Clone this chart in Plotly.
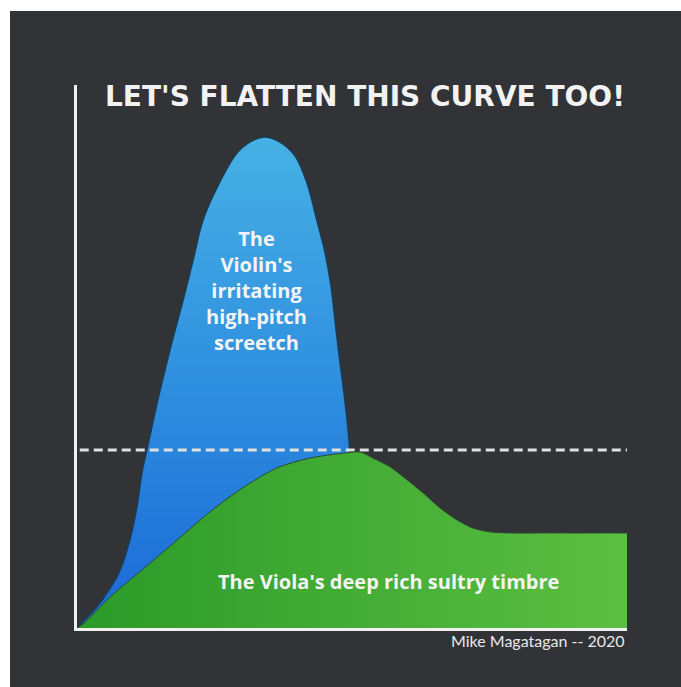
import plotly.graph_objects as go

# Violin curve (x, y in arbitrary units 0..100)
violin_x = [0, 1.45, 3.6, 5.8, 7.6, 9.6, 10.9, 11.8, 13.1, 14.7, 16.9, 19.3, 21.1, 22.9, 25.5, 29.1, 31.1, 33.8,
            36.9, 39.6, 41.8, 43.6, 45.1, 46.2, 46.9, 47.6, 48.4, 49.1, 49.6, 50.4, 51.5, 52.5]
violin_y = [0, 1.5, 3.9, 7.0, 10.1, 16.2, 22.3, 28.5, 34.6, 42.0, 51.2, 60.4, 67.7, 75.1, 81.2, 87.5, 89.3, 90.4,
            89.5, 87.0, 82.0, 75.1, 69.1, 62.8, 56.7, 50.6, 44.4, 38.3, 32.8, 23.6, 12.5, 0]

# Viola curve
viola_x = [0, 1.3, 6.0, 12.2, 18.2, 24.2, 30.4, 36.4, 42.4, 48.5, 51.5, 53.8, 56.9, 60.0, 62.9, 66.0, 69.1, 72.0,
           75.1, 78.7, 85, 92, 100]
viola_y = [0, 0.9, 5.7, 11.0, 16.2, 21.4, 26.0, 29.5, 31.3, 32.2, 32.4, 31.3, 29.7, 27.3, 24.9, 22.1, 19.9, 18.4,
           17.7, 17.5, 17.5, 17.5, 17.5]

threshold = 32.8

title_text = "LET'S FLATTEN THIS CURVE TOO!"
violin_label = "The<br>Violin's<br>irritating<br>high-pitch<br>screetch"
viola_label = "The Viola's deep rich sultry timbre"
credit = "Mike Magatagan -- 2020"

W, H = 681, 687
L, R, T, B = 77, 54, 85, 59
pw, ph = W - L - R, H - T - B


def px(xp):
    return (xp - L) / pw


def py(yp):
    return 1 - (yp - T) / ph


fig = go.Figure()

fig.add_trace(go.Scatter(
    x=violin_x, y=violin_y, mode="lines",
    line=dict(color="#1b3c52", width=1.5, shape="spline", smoothing=1.0),
    fill="tozeroy",
    fillgradient=dict(type="vertical", start=0, stop=90,
                      colorscale=[[0, "#1a68d6"], [0.5, "#2f8fdf"], [1, "#46b0e4"]]),
    hoverinfo="skip", showlegend=False))

fig.add_trace(go.Scatter(
    x=[0.5, 100], y=[threshold, threshold], mode="lines",
    line=dict(color="#e0e0e0", width=3, dash="9px,5px"),
    hoverinfo="skip", showlegend=False))

fig.add_trace(go.Scatter(
    x=viola_x, y=viola_y, mode="lines",
    line=dict(color="#2a4a2c", width=1, shape="spline", smoothing=0.8),
    fill="tozeroy",
    fillgradient=dict(type="horizontal", start=0, stop=100,
                      colorscale=[[0, "#2b9a28"], [1, "#5cbf42"]]),
    hoverinfo="skip", showlegend=False))

# white margins (left and top)
fig.add_shape(type="rect", xref="paper", yref="paper",
              x0=px(0), x1=px(10), y0=py(H), y1=py(0),
              fillcolor="white", line=dict(width=0), layer="above")
fig.add_shape(type="rect", xref="paper", yref="paper",
              x0=px(0), x1=px(W), y0=py(11), y1=py(0),
              fillcolor="white", line=dict(width=0), layer="above")

fig.add_annotation(x=px(103), y=py(97), xref="paper", yref="paper",
                   text="<b>" + title_text + "</b>", showarrow=False, xanchor="left", yanchor="middle",
                   font=dict(family="DejaVu Sans", size=28, color="#f2f2f2"))
fig.add_annotation(x=px(256), y=py(290), xref="paper", yref="paper",
                   text="<b>" + violin_label + "</b>", showarrow=False,
                   xanchor="center", yanchor="middle", align="center",
                   font=dict(family="Open Sans", size=20, color="#f4f4f4"))
fig.add_annotation(x=px(388), y=py(581), xref="paper", yref="paper",
                   text="<b>" + viola_label + "</b>", showarrow=False,
                   xanchor="center", yanchor="middle",
                   font=dict(family="Open Sans", size=20, color="#f4f4f4"))
fig.add_annotation(x=px(627), y=py(640), xref="paper", yref="paper", text=credit, showarrow=False,
                   xanchor="right", yanchor="middle",
                   font=dict(family="Lato", size=16, color="#e8e8e8"))

fig.update_layout(
    width=W, height=H, margin=dict(l=L, r=R, t=T, b=B),
    paper_bgcolor="#313337", plot_bgcolor="#313337",
    xaxis=dict(range=[0, 100], showgrid=False, zeroline=False, showticklabels=False,
               showline=True, linecolor="#f0f0f0", linewidth=3, ticks=""),
    yaxis=dict(range=[0, 100], showgrid=False, zeroline=False, showticklabels=False,
               showline=True, linecolor="#f0f0f0", linewidth=3, ticks=""),
)

fig.write_html("out.html", config={"displayModeBar": False},
               post_script="document.body.style.margin='0';document.body.style.overflow='hidden';")
